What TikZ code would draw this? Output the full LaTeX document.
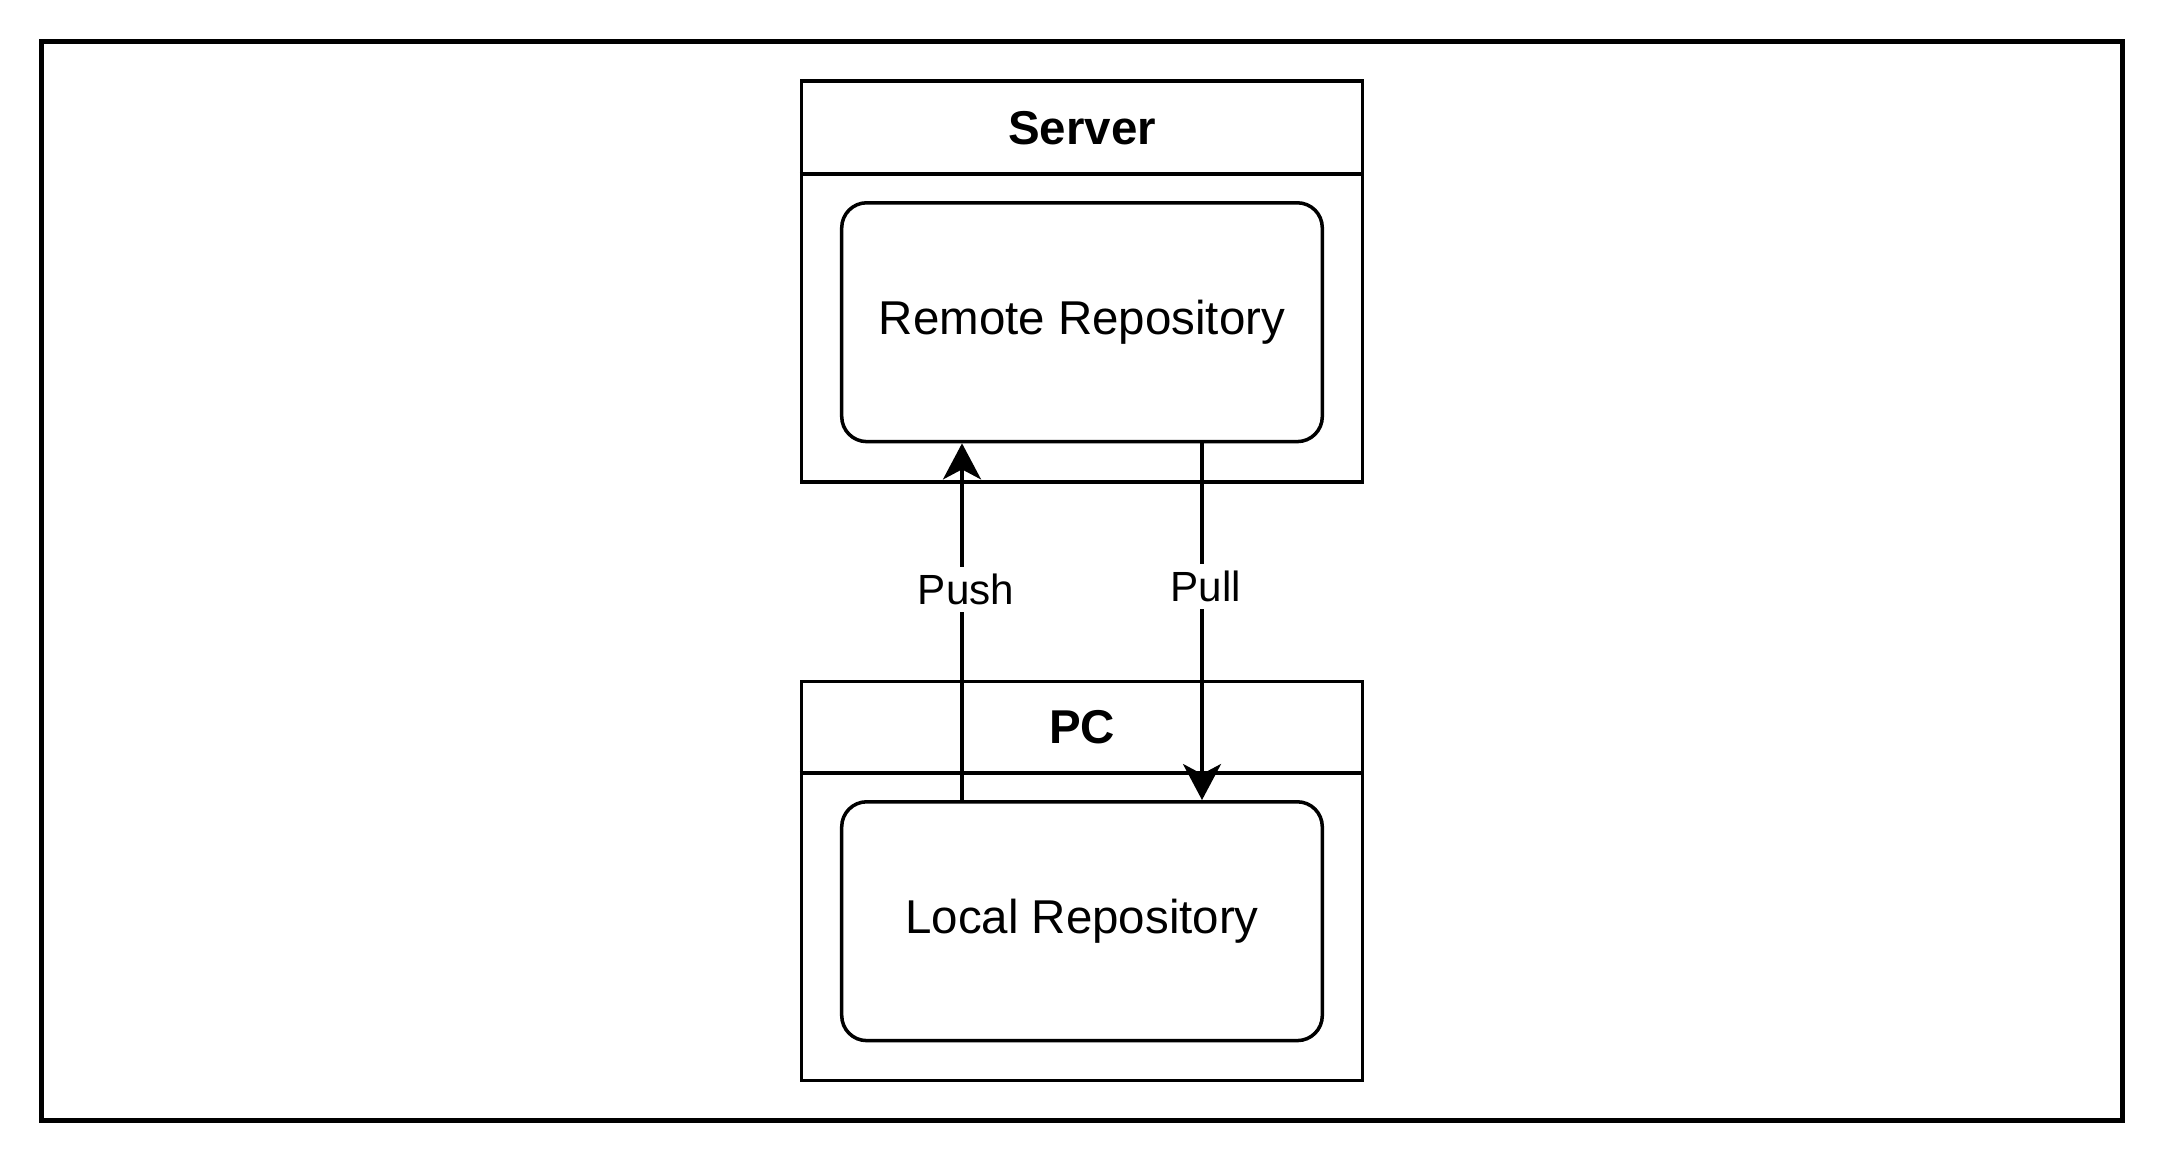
\documentclass[tikz,border=0pt]{standalone}
\usepackage{fontspec}
\setmainfont{Liberation Sans}
\usetikzlibrary{arrows.meta}
\tikzset{
  frame/.style={draw, line width=1.3pt},
  container/.style={draw, line width=1pt, minimum width=5.604cm, inner sep=0pt},
  title/.style={font=\fontsize{13.5}{16}\selectfont\bfseries},
  repo/.style={draw, line width=1pt, rounded corners=0.25cm, minimum width=4.803cm, minimum height=2.387cm, font=\fontsize{13.5}{16}\selectfont},
  flow/.style={line width=1pt, -{Stealth[length=0.36cm, width=0.38cm, inset=0.1cm]}},
  lbl/.style={fill=white, inner sep=2pt, font=\fontsize{12}{14}\selectfont}
}
\begin{document}
\begin{tikzpicture}[x=0.01cm, y=-0.01cm]
      \useasboundingbox (0,0) rectangle (2164,1164);
      \draw[frame] (41.4,41.4) rectangle (2122.6,1120.6);
      % server side
      \node[container, minimum height=4.003cm] (server) at (1082,281.5) {};
      \draw[line width=1pt] (server.west |- 0,173.9) -- (server.east |- 0,173.9);
      \node[title] (servertitle) at (1082,127.7) {Server};
      \node[repo] (remote) at (1082,322.2) {Remote Repository};
      % pc side
      \node[container, minimum height=3.988cm] (pc) at (1082,881.2) {};
      \draw[line width=1pt] (pc.west |- 0,772.9) -- (pc.east |- 0,772.9);
      \node[title] (pctitle) at (1082,727.4) {PC};
      \node[repo] (local) at (1082,921.2) {Local Repository};
      % push / pull
      \draw[flow] (local.north -| 962,0) -- node[lbl, pos=0.59, xshift=0.04cm] (push) {Push} (remote.south -| 962,0);
      \draw[flow] (remote.south -| 1202,0) -- node[lbl, pos=0.40, xshift=0.04cm] (pull) {Pull} (local.north -| 1202,0);
    \end{tikzpicture}
\end{document}
